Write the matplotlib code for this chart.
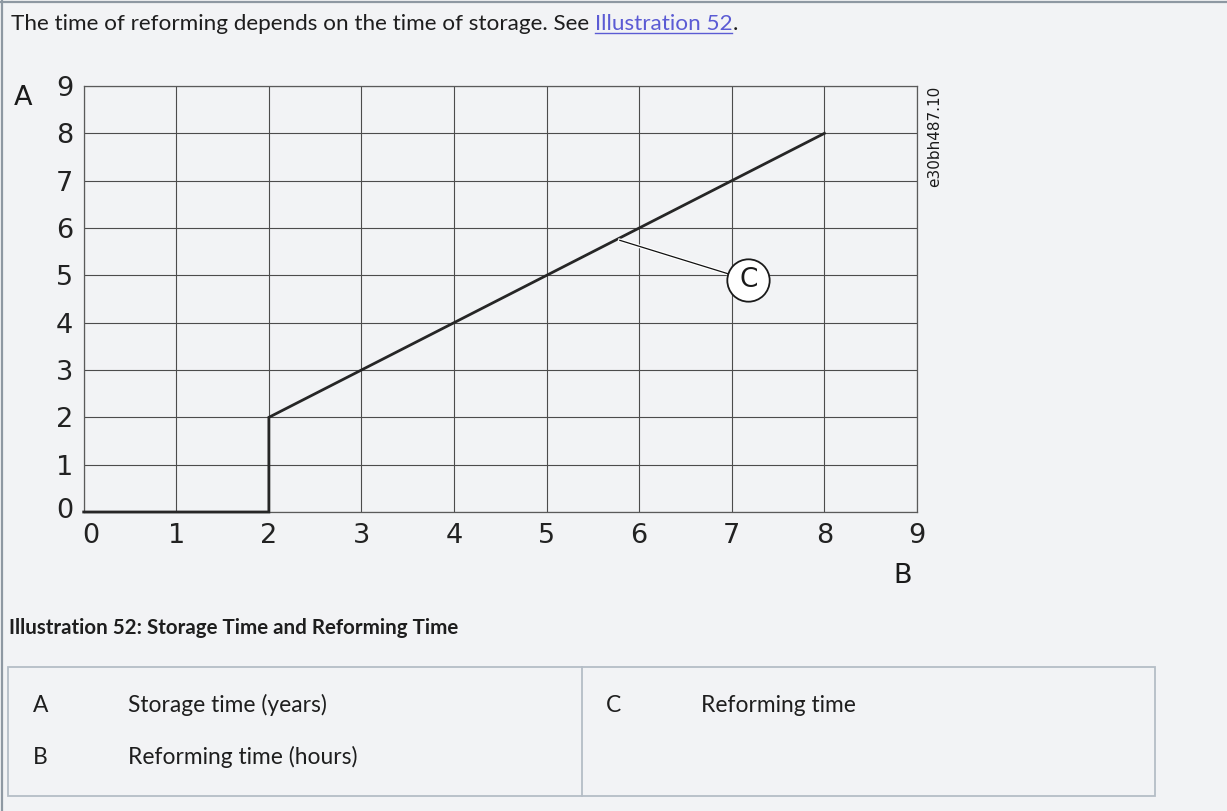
import matplotlib
matplotlib.use("Agg")
import matplotlib.pyplot as plt
from matplotlib.lines import Line2D
from matplotlib.patches import Rectangle
from matplotlib.transforms import ScaledTranslation
import matplotlib.patheffects as pe

# ---- data -------------------------------------------------------------
storage_years = [0, 2, 2, 8]      # x: storage time
reform_hours = [0, 0, 2, 8]       # y: reforming time
x_ticks = [0, 1, 2, 3, 4, 5, 6, 7, 8, 9]
y_ticks = [0, 1, 2, 3, 4, 5, 6, 7, 8, 9]
callout_anchor = (5.79, 5.74)
callout_label_pos = (7.18, 4.90)
callout_label = "C"
axis_label_a = "A"
axis_label_b = "B"
drawing_id = "e30bh487.10"

intro_text = "The time of reforming depends on the time of storage. See "
intro_link = "Illustration 52"
intro_end = "."
caption = "Illustration 52: Storage Time and Reforming Time"
legend_left = [("A", "Storage time (years)"), ("B", "Reforming time (hours)")]
legend_right = [("C", "Reforming time")]

# ---- page -------------------------------------------------------------
W, H = 1227, 811
PAGE = "#f2f3f5"
INK = "#1e1e1e"
DRAW_FONT = "DejaVu Sans"
BODY = "Lato"

fig = plt.figure(figsize=(W / 100, H / 100), dpi=100, facecolor=PAGE)
renderer = fig.canvas.get_renderer()


def fx(px):
    return px / W


def fy(py):
    return 1 - py / H


def text_width(s, size, **kw):
    t = fig.text(0, 0, s, fontsize=size, **kw)
    w = t.get_window_extent(renderer).width
    t.remove()
    return w


def fit_size(s, width_px, **kw):
    return 10 * width_px / text_width(s, 10, **kw)


# page frame (top and left rules)
fig.add_artist(Line2D([0, 1], [fy(1.5), fy(1.5)], color="#8e98a2", lw=1.6))
fig.add_artist(Line2D([fx(1.5), fx(1.5)], [0, 1], color="#8e98a2", lw=1.6))

# intro sentence with underlined link
hs = fit_size(intro_text + intro_link + intro_end, 726, family=BODY)
x0 = 11
base = 30
fig.text(fx(x0), fy(base), intro_text, fontsize=hs, family=BODY, color=INK, va="baseline")
x1 = x0 + text_width(intro_text, hs, family=BODY)
fig.text(fx(x1), fy(base), intro_link, fontsize=hs, family=BODY, color="#5b5bd4", va="baseline")
x2 = x1 + text_width(intro_link, hs, family=BODY)
fig.add_artist(Line2D([fx(x1), fx(x2)], [fy(base + 3), fy(base + 3)], color="#5b5bd4", lw=1.0))
fig.text(fx(x2), fy(base), intro_end, fontsize=hs, family=BODY, color=INK, va="baseline")

# ---- chart ------------------------------------------------------------
left, right, top, bottom = 83.7, 917, 86, 512
ax = fig.add_axes([fx(left), fy(bottom), fx(right - left), (bottom - top) / H])
ax.set_facecolor(PAGE)
ax.set_xlim(x_ticks[0], x_ticks[-1])
ax.set_ylim(y_ticks[0], y_ticks[-1])
ax.set_xticks(x_ticks)
ax.set_yticks(y_ticks)
ax.set_xticklabels([str(v) for v in x_ticks], family=DRAW_FONT, fontsize=19.5, color="#222222")
ax.set_yticklabels([str(v) for v in y_ticks], family=DRAW_FONT, fontsize=19.5, color="#222222")
ax.tick_params(length=0)
ax.tick_params(axis="x", pad=8)
ax.tick_params(axis="y", pad=7.7)
ax.grid(True, color="#4c4c4c", lw=0.8)
ax.set_axisbelow(True)
for sp in ax.spines.values():
    sp.set_color("#5a5a5a")
    sp.set_linewidth(0.9)

# nudge the origin labels the way the drawing places them
xl0 = ax.get_xticklabels()[0]
xl0.set_transform(xl0.get_transform() + ScaledTranslation(7 / 100, 0, fig.dpi_scale_trans))
yl0 = ax.get_yticklabels()[0]
yl0.set_transform(yl0.get_transform() + ScaledTranslation(0, 4.5 / 100, fig.dpi_scale_trans))

ax.plot(storage_years, reform_hours, color="#262626", lw=2.0, clip_on=False,
        solid_joinstyle="miter", zorder=4)

# callout to the curve
ax.plot([callout_anchor[0], callout_label_pos[0]], [callout_anchor[1], callout_label_pos[1]],
        color="#111111", lw=0.9, zorder=5,
        path_effects=[pe.withStroke(linewidth=2.6, foreground="white")])
ax.plot([callout_label_pos[0]], [callout_label_pos[1]], marker="o", ms=30.5,
        mfc="white", mec="#1a1a1a", mew=1.3, zorder=6)
ax.text(callout_label_pos[0], callout_label_pos[1], callout_label, fontsize=19,
        family=DRAW_FONT, ha="center", va="center", color="#1a1a1a", zorder=7)

ax.text(-0.655, 8.75, axis_label_a, fontsize=19.5, family=DRAW_FONT, ha="center",
        va="center", color="#1a1a1a", clip_on=False)
ax.text(8.85, -1.35, axis_label_b, fontsize=19.5, family=DRAW_FONT, ha="center",
        va="center", color="#1a1a1a", clip_on=False)
ax.text(9.19, 9.0, drawing_id, fontsize=11, family=DRAW_FONT, rotation=90, ha="center",
        va="top", color="#1a1a1a", clip_on=False)

# ---- caption and key table -------------------------------------------
cs = fit_size(caption, 449, family=BODY, weight="bold")
fig.text(fx(9), fy(634), caption, fontsize=cs, family=BODY, weight="bold",
         color=INK, va="baseline")

ts = fit_size(legend_left[0][1], 198, family=BODY)
fig.add_artist(Rectangle((fx(7.5), fy(796)), fx(1155 - 7.5), (796 - 667) / H,
                         fill=False, ec="#b5bdc6", lw=1.3))
fig.add_artist(Line2D([fx(581.5), fx(581.5)], [fy(667), fy(796)], color="#b5bdc6", lw=1.3))

for (key, desc), yb in zip(legend_left, [712, 764]):
    fig.text(fx(33), fy(yb), key, fontsize=ts, family=BODY, color=INK, va="baseline")
    fig.text(fx(127.5), fy(yb), desc, fontsize=ts, family=BODY, color=INK, va="baseline")
for (key, desc), yb in zip(legend_right, [712]):
    fig.text(fx(605.5), fy(yb), key, fontsize=ts, family=BODY, color=INK, va="baseline")
    fig.text(fx(700.5), fy(yb), desc, fontsize=ts, family=BODY, color=INK, va="baseline")

fig.savefig("out.png", dpi=100, facecolor=PAGE)
